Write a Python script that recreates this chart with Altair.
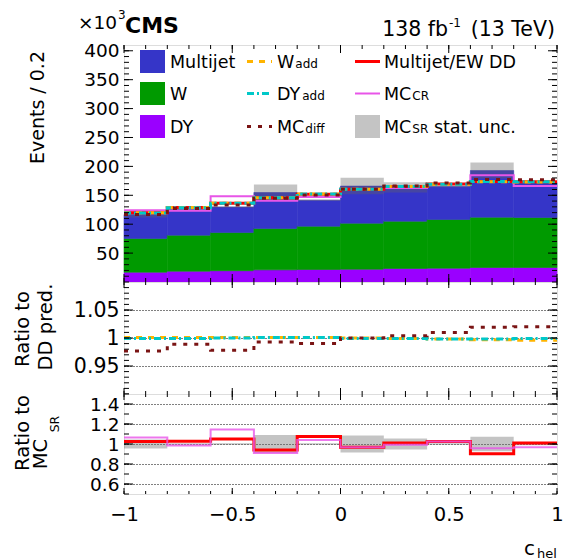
import altair as alt
import pandas as pd

FONT = "DejaVu Sans"

# ---------------- data (events in units of 10^3) ----------------
bin_edges = [-1.0, -0.8, -0.6, -0.4, -0.2, 0.0, 0.2, 0.4, 0.6, 0.8, 1.0]
dy_sr = [17.0, 18.7, 19.5, 21.0, 21.6, 22.1, 23.4, 23.9, 25.1, 25.1]
w_sr = [58.3, 62.3, 66.1, 71.6, 74.9, 79.6, 81.8, 84.2, 87.0, 86.5]
multijet_sr = [41.4, 44.4, 44.1, 62.2, 44.9, 64.2, 58.5, 57.2, 80.8, 60.3]
dd_pred = [119.7, 128.7, 136.1, 145.7, 152.0, 160.4, 165.3, 169.6, 174.0, 173.6]
mcsr_stat_unc = [0.045, 0.008, 0.008, 0.089, 0.008, 0.086, 0.054, 0.008, 0.072, 0.012]
w_add_to_dd = [1.001, 1.001, 1.001, 1.001, 1.001, 1.000, 0.999, 0.998, 0.997, 0.996]
dy_add_to_dd = [0.999, 0.999, 1.000, 1.001, 1.001, 0.999, 0.999, 0.998, 0.998, 0.999]
mc_diff_to_dd = [0.977, 0.989, 0.978, 0.993, 0.990, 1.000, 1.004, 1.010, 1.019, 1.020]
mc_cr_to_sr = [1.065, 0.984, 1.145, 0.909, 1.039, 0.967, 0.993, 1.026, 0.958, 0.967]

stack_names = ["DY", "W", "Multijet"]
top_y_labels = [50, 100, 150, 200, 250, 300, 350, 400]
mid_y_labels = [0.95, 1.0, 1.05]
bot_y_labels = [0.6, 0.8, 1.0, 1.2, 1.4]
x_labels = [-1, -0.5, 0, 0.5, 1]

# ---------------- styles ----------------
BLUE, GREEN, PURPLE = "#3535c8", "#009a00", "#9a00ff"
RED, MAGENTA, YELLOW, CYAN, BROWN = "#ff0000", "#e855e8", "#ffb400", "#00c8c8", "#7a1414"
BAND, BAND_OP = "#656565", 0.38
DASH_W, DASH_DY, DASH_MC = [6, 6], [7, 3, 2, 3], [4, 7]

W = 433
H_TOP, H_MID, H_BOT = 237, 112, 100

xs = alt.Scale(domain=[-1, 1], nice=False, zero=False)
ys_top = alt.Scale(domain=[0, 410], nice=False, zero=False)
ys_mid = alt.Scale(domain=[0.9, 1.1], nice=False, zero=False)
ys_bot = alt.Scale(domain=[0.5, 1.5], nice=False, zero=False)

# ---------------- derived tables ----------------
nb = len(dy_sr)
mc_sr_total = [dy_sr[i] + w_sr[i] + multijet_sr[i] for i in range(nb)]
dd_to_sr = [dd_pred[i] / mc_sr_total[i] for i in range(nb)]
w_add = [dd_pred[i] * w_add_to_dd[i] for i in range(nb)]
dy_add = [dd_pred[i] * dy_add_to_dd[i] for i in range(nb)]
mc_diff = [dd_pred[i] * mc_diff_to_dd[i] for i in range(nb)]
mc_cr = [mc_sr_total[i] * mc_cr_to_sr[i] for i in range(nb)]

rows = []
for i in range(nb):
    base = 0.0
    for name, arr in zip(stack_names, [dy_sr, w_sr, multijet_sr]):
        rows.append(dict(x0=bin_edges[i], x1=bin_edges[i + 1], y0=base, y1=base + arr[i], proc=name))
        base += arr[i]
stack_df = pd.DataFrame(rows)

band_top_df = pd.DataFrame(dict(
    x0=bin_edges[:-1], x1=bin_edges[1:],
    lo=[mc_sr_total[i] * (1 - mcsr_stat_unc[i]) for i in range(nb)],
    hi=[mc_sr_total[i] * (1 + mcsr_stat_unc[i]) for i in range(nb)]))
band_rat_df = pd.DataFrame(dict(
    x0=bin_edges[:-1], x1=bin_edges[1:],
    lo=[1 - u for u in mcsr_stat_unc], hi=[1 + u for u in mcsr_stat_unc]))


def steps(vals):
    return pd.DataFrame({"x": bin_edges, "y": list(vals) + [vals[-1]]})


def yaxis(values, size, grid, fmt="~g"):
    return alt.Axis(values=values, format=fmt, labelFont=FONT, labelFontSize=size,
                    labelColor="black", labelPadding=5, labelOverlap=False, ticks=False, tickSize=0,
                    domain=False, grid=grid, gridColor="black", gridDash=[1, 2],
                    gridWidth=1, gridOpacity=1, title=None)


XAX_BOT = alt.Axis(values=x_labels, format="~g", labelFont=FONT, labelFontSize=19.5, labelColor="black",
                   labelPadding=11, labelFlush=False, labelOverlap=False, ticks=False, tickSize=0,
                   domain=False, grid=False, title=None)


class Panel:
    def __init__(self, ys, yax, xax, h):
        self.ys, self.yax, self.xax, self.h = ys, yax, xax, h

    def X(self, f):
        return alt.X(f, scale=xs, axis=self.xax)

    def Y(self, f):
        return alt.Y(f, scale=self.ys, axis=self.yax)


def step_layer(P, vals, color, width, dash=None, opacity=1.0):
    kw = dict(interpolate="step-after", color=color, strokeWidth=width, opacity=opacity, strokeCap="butt")
    if dash:
        kw["strokeDash"] = dash
    return alt.Chart(steps(vals)).mark_line(**kw).encode(x=P.X("x:Q"), y=P.Y("y:Q"))


def band_layer(P, df):
    return alt.Chart(df).mark_rect(color=BAND, opacity=BAND_OP).encode(
        x=P.X("x0:Q"), x2="x1:Q", y=P.Y("lo:Q"), y2="hi:Q")


def txt(s, x, y, size, align="left", angle=None, weight="normal"):
    kw = dict(align=align, baseline="alphabetic", fontSize=size, font=FONT,
              fontWeight=weight, color="black")
    if angle is not None:
        kw["angle"] = angle
    return alt.Chart(pd.DataFrame({"t": [s]})).mark_text(**kw).encode(
        x=alt.value(x), y=alt.value(y), text="t:N")


x_major = [-1, -0.5, 0, 0.5, 1]
x_minor = [round(-1 + 0.1 * k, 2) for k in range(21)]


def tick_layers(P, ymaj, ymin, ylen=(9, 5), xlen=(8, 4)):
    out = []
    for vals, L in ((ymaj, ylen[0]), (ymin, ylen[1])):
        d = pd.DataFrame({"v": vals})
        for a, b in ((0, L), (W - L, W)):
            out.append(alt.Chart(d).mark_rule(color="black", strokeWidth=1).encode(
                y=P.Y("v:Q"), x=alt.value(a), x2=alt.value(b)))
    for vals, L in ((x_major, xlen[0]), (x_minor, xlen[1])):
        d = pd.DataFrame({"v": vals})
        for a, b in ((0, L), (P.h - L, P.h)):
            out.append(alt.Chart(d).mark_rule(color="black", strokeWidth=1).encode(
                x=P.X("v:Q"), y=alt.value(a), y2=alt.value(b)))
    return out


# DejaVu Sans advance widths (em) for legend label placement
GW = {"W": 0.989, "D": 0.770, "Y": 0.611, "M": 0.863, "C": 0.698, "S": 0.635, "R": 0.695}


def tw(s, size):
    return sum(GW[c] for c in s) * size


# ---------------- top panel ----------------
PT = Panel(ys_top, yaxis(top_y_labels, 18.5, False, fmt="d"), None, H_TOP)
stack = alt.Chart(stack_df).mark_rect(strokeWidth=0.6).encode(
    x=PT.X("x0:Q"), x2="x1:Q", y=PT.Y("y0:Q"), y2="y1:Q",
    color=alt.Color("proc:N", scale=alt.Scale(domain=stack_names, range=[PURPLE, GREEN, BLUE]), legend=None),
    stroke=alt.Stroke("proc:N", scale=alt.Scale(domain=stack_names, range=[PURPLE, GREEN, BLUE]), legend=None))

top_layers = [
    stack,
    band_layer(PT, band_top_df),
    step_layer(PT, mc_cr, MAGENTA, 2),
    step_layer(PT, dd_pred, RED, 3),
    step_layer(PT, w_add, YELLOW, 3, DASH_W),
    step_layer(PT, dy_add, CYAN, 3, DASH_DY),
    step_layer(PT, mc_diff, BROWN, 3, DASH_MC),
]
top_layers += tick_layers(PT, top_y_labels, list(range(10, 410, 10)))

# legend
LEG_FS, SUB_FS = 17.5, 12
rows_c = [16.5, 48.5, 81.5]
col_x = [16, 123, 231]
text_x = [46, 153, 260]
box_entries = [("Multijet", BLUE), ("W", GREEN), ("DY", PURPLE)]
for r, (lab, col) in enumerate(box_entries):
    top_layers.append(alt.Chart(pd.DataFrame({"t": [lab]})).mark_rect(color=col).encode(
        x=alt.value(col_x[0]), x2=alt.value(col_x[0] + 25),
        y=alt.value(rows_c[r] - 11.5), y2=alt.value(rows_c[r] + 11.5)))
    top_layers.append(txt(lab, text_x[0], rows_c[r] + 6.3, LEG_FS))

line_entries = [("W", "add", YELLOW, DASH_W), ("DY", "add", CYAN, DASH_DY), ("MC", "diff", BROWN, DASH_MC)]
for r, (lab, sub, col, dash) in enumerate(line_entries):
    top_layers.append(alt.Chart(pd.DataFrame({"t": [lab + sub]})).mark_rule(
        color=col, strokeWidth=3, strokeDash=dash, strokeCap="butt").encode(
        x=alt.value(col_x[1]), x2=alt.value(col_x[1] + 25), y=alt.value(rows_c[r])))
    top_layers.append(txt(lab, text_x[1], rows_c[r] + 6.3, LEG_FS))
    top_layers.append(txt(sub, text_x[1] + tw(lab, LEG_FS) + 1, rows_c[r] + 6.3, SUB_FS))

# column 3
top_layers.append(alt.Chart(pd.DataFrame({"t": ["dd"]})).mark_rule(color=RED, strokeWidth=3).encode(
    x=alt.value(col_x[2]), x2=alt.value(col_x[2] + 25), y=alt.value(rows_c[0])))
top_layers.append(txt("Multijet/EW DD", text_x[2], rows_c[0] + 6.3, LEG_FS))
top_layers.append(alt.Chart(pd.DataFrame({"t": ["cr"]})).mark_rule(color=MAGENTA, strokeWidth=2).encode(
    x=alt.value(col_x[2]), x2=alt.value(col_x[2] + 25), y=alt.value(rows_c[1])))
top_layers.append(txt("MC", text_x[2], rows_c[1] + 6.3, LEG_FS))
top_layers.append(txt("CR", text_x[2] + tw("MC", LEG_FS) + 1, rows_c[1] + 6.3, SUB_FS))
top_layers.append(alt.Chart(pd.DataFrame({"t": ["sr"]})).mark_rect(color=BAND, opacity=BAND_OP).encode(
    x=alt.value(col_x[2]), x2=alt.value(col_x[2] + 25),
    y=alt.value(rows_c[2] - 11.5), y2=alt.value(rows_c[2] + 11.5)))
top_layers.append(txt("MC", text_x[2], rows_c[2] + 6.3, LEG_FS))
sr_x = text_x[2] + tw("MC", LEG_FS) + 1
top_layers.append(txt("SR", sr_x, rows_c[2] + 6.3, SUB_FS))
top_layers.append(txt("stat. unc.", sr_x + tw("SR", SUB_FS) + 5.6, rows_c[2] + 6.3, LEG_FS))

# header texts
top_layers += [
    txt("×10", -7, -16, 18.5, align="right"),
    txt("3", -6, -26, 12),
    txt("CMS", 1, -12, 22, weight="bold"),
    txt("138 fb", 324, -9, 20.5, align="right"),
    txt("-1", 325, -18, 12),
    txt("(13 TeV)", 431, -9, 20.5, align="right"),
    txt("Events / 0.2", -80, 6, 19, align="right", angle=270),
]
top = alt.layer(*top_layers).properties(width=W, height=H_TOP)

# ---------------- middle panel ----------------
PM = Panel(ys_mid, yaxis(mid_y_labels, 20.5, True), None, H_MID)
mid_layers = [
    step_layer(PM, w_add_to_dd, YELLOW, 3, DASH_W),
    step_layer(PM, dy_add_to_dd, CYAN, 3, DASH_DY),
    step_layer(PM, mc_diff_to_dd, BROWN, 3, DASH_MC),
]
mid_layers += tick_layers(PM, mid_y_labels, [round(0.9 + 0.01 * k, 3) for k in range(21)], xlen=(6, 3))
mid_layers += [
    txt("Ratio to", -95, 47, 19.5, align="center", angle=270),
    txt("DD pred.", -72, 45, 19.5, align="center", angle=270),
]
mid = alt.layer(*mid_layers).properties(width=W, height=H_MID)

# ---------------- bottom panel ----------------
PB = Panel(ys_bot, yaxis(bot_y_labels, 18.5, True), XAX_BOT, H_BOT)
bot_layers = [
    band_layer(PB, band_rat_df),
    step_layer(PB, dd_to_sr, RED, 3),
    step_layer(PB, mc_cr_to_sr, MAGENTA, 2, opacity=0.8),
]
bot_layers += tick_layers(PB, bot_y_labels, [round(0.5 + 0.1 * k, 2) for k in range(11)], xlen=(6, 3))
bot_layers += [
    txt("Ratio to", -95, 39, 19.5, align="center", angle=270),
    txt("MC", -77, 60, 19.5, align="center", angle=270),
    txt("SR", -65, 30, 12.5, align="center", angle=270),
    txt("c", 411, 161, 20, align="right"),
    txt("hel", 413, 164, 13),
]
bot = alt.layer(*bot_layers).properties(width=W, height=H_BOT)

chart = alt.vconcat(top, mid, bot, spacing=0, bounds="flush").properties(
    padding={"left": 4, "top": 0, "right": 4, "bottom": 0}
).configure_view(stroke="black", strokeWidth=2).configure(background="white")

chart.save("out.html", embed_options={"renderer": "svg", "actions": False})
